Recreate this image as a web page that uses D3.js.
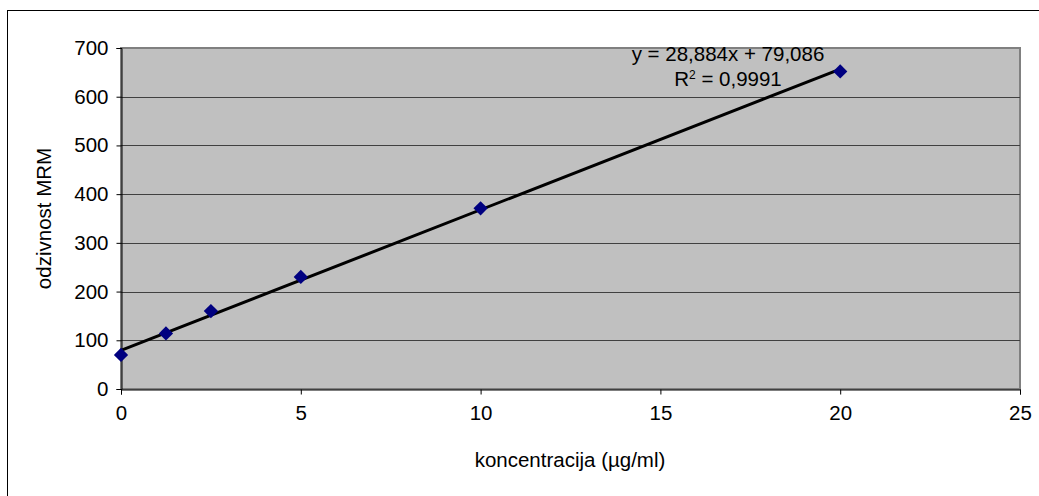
<!DOCTYPE html>
<html>
<head>
<meta charset="utf-8">
<script src="https://cdn.jsdelivr.net/npm/d3@7"></script>
<style>
  html, body { margin: 0; padding: 0; background: #fff; }
  svg text { font-family: "Liberation Sans", Arial, sans-serif; fill: #000; }
</style>
</head>
<body>
<div id="chart"></div>
<script>
(function () {

    /* data */
    var concentrations = [0, 1.25, 2.5, 5, 10, 20];
    var responses      = [70, 114, 160, 230, 371, 652];
    var xTicks = [0, 5, 10, 15, 20, 25];
    var yTicks = [0, 100, 200, 300, 400, 500, 600, 700];
    var trendCoef = [28.884, 79.086];   // slope, intercept
    var trendRange = [0, 20];
    var eqLines = ["y = 28,884x + 79,086", "R² = 0,9991"];

    var W = 1039, H = 496;
    var PL = 121, PT = 48, PR = 1020, PB = 389;
    var FS = "20.5px";

    var svg = d3.select("#chart").append("svg")
        .attr("width", W).attr("height", H);

    /* outer chart frame */
    svg.append("rect")
        .attr("x", 7.5).attr("y", 10.5)
        .attr("width", W).attr("height", H)
        .attr("fill", "#fff").attr("stroke", "#000").attr("stroke-width", 1);

    var x = d3.scaleLinear().domain([0, 25]).range([PL, PR]);
    var y = d3.scaleLinear().domain([0, 700]).range([PB, PT]);

    /* plot area */
    svg.append("rect")
        .attr("x", PL).attr("y", PT)
        .attr("width", PR - PL).attr("height", PB - PT)
        .attr("fill", "#c0c0c0")
        .attr("stroke", "#808080").attr("stroke-width", 2);

    /* horizontal gridlines */
    svg.append("g").selectAll("line")
        .data(yTicks.filter(function (d) { return d > 0 && d < 700; }))
        .enter().append("line")
        .attr("x1", PL).attr("x2", PR)
        .attr("y1", function (d) { return Math.round(y(d)) + 0.5; })
        .attr("y2", function (d) { return Math.round(y(d)) + 0.5; })
        .attr("stroke", "#404040").attr("stroke-width", 1);

    /* axes */
    var yAxis = svg.append("g")
        .attr("transform", "translate(" + (PL + 0.5) + ",0)")
        .call(d3.axisLeft(y).tickValues(yTicks).tickSize(5).tickPadding(8)
            .tickFormat(d3.format("d")));
    var xAxis = svg.append("g")
        .attr("transform", "translate(0," + (PB + 0.5) + ")")
        .call(d3.axisBottom(x).tickValues(xTicks).tickSize(5).tickPadding(11)
            .tickFormat(d3.format("d")));

    [yAxis, xAxis].forEach(function (a) {
        a.attr("font-size", null).attr("font-family", null);
        a.selectAll("path.domain").attr("stroke", "#000");
        a.selectAll(".tick line").attr("stroke", "#000");
        a.selectAll("text").style("font-size", FS).attr("fill", "#000");
    });

    /* trendline */
    var line = d3.line()
        .x(function (d) { return x(d); })
        .y(function (d) { return y(trendCoef[0] * d + trendCoef[1]); });
    svg.append("path")
        .datum(trendRange)
        .attr("d", line)
        .attr("fill", "none")
        .attr("stroke", "#000").attr("stroke-width", 3);

    /* markers */
    var pts = concentrations.map(function (c, i) { return [c, responses[i]]; });
    svg.append("g").selectAll("path")
        .data(pts)
        .enter().append("path")
        .attr("d", d3.symbol().type(d3.symbolDiamond2).size(130))
        .attr("transform", function (d) {
            return "translate(" + x(d[0]) + "," + y(d[1]) + ")";
        })
        .attr("fill", "#000080");

    /* equation label */
    svg.append("text")
        .attr("x", 728).attr("y", 61)
        .attr("text-anchor", "middle")
        .style("font-size", FS)
        .text(eqLines[0]);
    var r2 = svg.append("text")
        .attr("x", 728).attr("y", 86)
        .attr("text-anchor", "middle")
        .style("font-size", FS);
    r2.append("tspan").text("R");
    r2.append("tspan").attr("dy", -7).style("font-size", "12px").text("2");
    r2.append("tspan").attr("dy", 7).text(eqLines[1].slice(2));

    /* axis titles */
    svg.append("text")
        .attr("x", 570).attr("y", 467)
        .attr("text-anchor", "middle")
        .style("font-size", FS)
        .text("koncentracija (µg/ml)");
    svg.append("text")
        .attr("transform", "translate(51," + ((PT + PB) / 2) + ") rotate(-90)")
        .attr("text-anchor", "middle")
        .style("font-size", FS)
        .text("odzivnost MRM");

}());
</script>
</body>
</html>
